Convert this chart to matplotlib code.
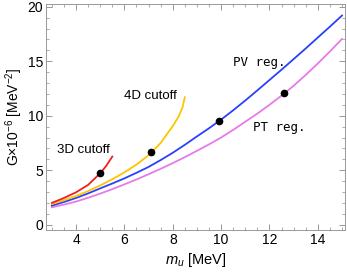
import matplotlib
matplotlib.use("Agg")
import matplotlib.pyplot as plt
from matplotlib.ticker import MultipleLocator

plt.rcParams['font.family'] = ['Liberation Sans', 'DejaVu Sans']
plt.rcParams['mathtext.fontset'] = 'custom'
plt.rcParams['mathtext.it'] = 'Liberation Sans:italic'
plt.rcParams['mathtext.rm'] = 'Liberation Sans'

# values
m_3d = [3.0, 3.5, 4.0, 4.5, 5.0, 5.25, 5.5]
g_3d = [2.0, 2.45, 2.97, 3.65, 4.72, 5.4, 6.25]

m_4d = [3.0, 3.5, 4.0, 4.5, 5.0, 5.5, 6.0, 6.5, 7.0, 7.5, 8.0, 8.25, 8.4, 8.5]
g_4d = [1.9, 2.25, 2.63, 3.08, 3.6, 4.17, 4.8, 5.52, 6.38, 7.5, 9.05, 9.95, 10.75, 11.7]

m_pv = [3.0, 3.5, 4.0, 4.5, 5.0, 5.5, 6.0, 6.5, 7.0, 7.5, 8.0, 8.5, 9.0,
        9.5, 10.0, 10.5, 11.0, 11.5, 12.0, 12.5, 13.0, 13.5, 14.0, 14.5, 15.0]
g_pv = [1.75, 2.08, 2.45, 2.87, 3.33, 3.78, 4.25, 4.76, 5.3, 5.93, 6.6, 7.33, 8.1,
        8.85, 9.65, 10.5, 11.4, 12.33, 13.28, 14.23, 15.2, 16.18, 17.18, 18.18, 19.2]

m_pt = m_pv
g_pt = [1.6, 1.84, 2.12, 2.47, 2.85, 3.26, 3.7, 4.15, 4.63, 5.13, 5.65, 6.2, 6.78,
        7.37, 8.0, 8.7, 9.45, 10.2, 11.0, 11.85, 12.75, 13.75, 14.8, 15.9, 17.05]

dots_m = [5.0, 7.09, 9.92, 12.61]
dots_g = [4.72, 6.64, 9.54, 12.06]

fig = plt.figure(figsize=(3.47, 2.72), dpi=100)
ax = fig.add_axes([0.132, 0.154, 0.862, 0.831])

ax.plot(m_pt, g_pt, color='#e67be8', lw=1.3)
ax.plot(m_pv, g_pv, color='#2a40ff', lw=1.3)
ax.plot(m_4d, g_4d, color='#ffc400', lw=1.3)
ax.plot(m_3d, g_3d, color='#f02020', lw=1.3)
ax.plot(dots_m, dots_g, 'o', color='black', ms=4.5, zorder=5)

ax.text(11.56, 14.9, 'PV reg.', family='DejaVu Sans Mono', fontsize=9, ha='center', va='center')
ax.text(12.4, 8.9, 'PT reg.', family='DejaVu Sans Mono', fontsize=9, ha='center', va='center')
ax.text(7.06, 11.8, '4D cutoff', fontsize=9.5, ha='center', va='center')
ax.text(4.29, 6.85, '3D cutoff', fontsize=9.5, ha='center', va='center')

ax.set_xlim(2.75, 15.12)
ax.set_ylim(-0.5, 20.25)
ax.xaxis.set_major_locator(MultipleLocator(2))
ax.xaxis.set_minor_locator(MultipleLocator(0.5))
ax.yaxis.set_major_locator(MultipleLocator(5))
ax.yaxis.set_minor_locator(MultipleLocator(1))
ax.tick_params(which='both', direction='in', top=True, right=True, color='#888888',
               labelsize=10, pad=2)
ax.tick_params(which='major', length=4, width=0.6)
ax.tick_params(which='minor', length=2, width=0.5)
for s in ax.spines.values():
    s.set_color('#999999')
    s.set_linewidth(0.7)

ax.set_xlabel('$m_u$ [MeV]', fontsize=10.5, labelpad=3)
ax.set_ylabel('G$\\times$10$^{-6}$ [MeV$^{-2}$]', fontsize=10, labelpad=2)

fig.savefig('out.png', dpi=100)
